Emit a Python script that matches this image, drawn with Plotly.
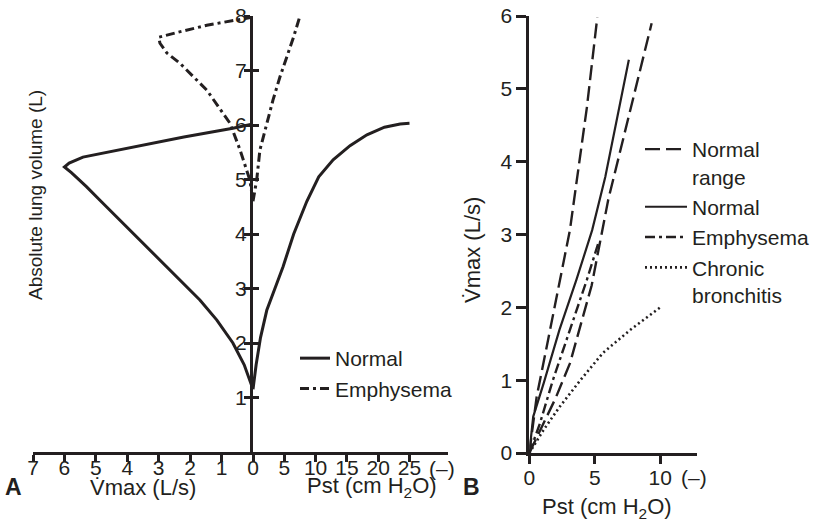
import plotly.graph_objects as go

# ---------------- Panel A data ----------------
# Normal: maximal flow (L/s) vs absolute lung volume (L)
a_norm_vol_flow = [6.02, 5.94, 5.78, 5.6, 5.41, 5.3, 5.23, 5.12, 4.87, 4.62, 4.32, 4.02, 3.7, 3.39, 3.09, 2.79, 2.42, 2.0, 1.6, 1.35, 1.15]
a_norm_vmax = [0.0, 0.64, 2.2, 3.82, 5.41, 5.85, 6.0, 5.77, 5.3, 4.87, 4.35, 3.82, 3.27, 2.74, 2.2, 1.69, 1.15, 0.64, 0.28, 0.12, 0.0]
# Normal: static recoil pressure (cm H2O) vs volume
a_norm_pst = [0, 0.5, 1.2, 2.2, 3.5, 4.8, 6.5, 8.6, 10.5, 12.8, 15.5, 18.2, 21, 23.5, 25]
a_norm_vol_pst = [1.15, 1.6, 2.1, 2.6, 3.0, 3.4, 4.0, 4.6, 5.05, 5.36, 5.62, 5.82, 5.96, 6.02, 6.03]
# Emphysema
a_emph_vol_flow = [7.98, 7.83, 7.7, 7.61, 7.5, 7.32, 7.13, 6.64, 6.03, 5.54, 4.99, 4.6]
a_emph_vmax = [0.0, 1.47, 2.4, 3.0, 2.96, 2.74, 2.32, 1.47, 0.73, 0.41, 0.1, 0.0]
a_emph_pst = [0, 0.6, 1.1, 2.1, 3.2, 4.3, 5.4, 6.5, 7.5]
a_emph_vol_pst = [4.6, 5.0, 5.54, 6.0, 6.46, 6.88, 7.25, 7.62, 8.0]

a_vmax_ticks = [7, 6, 5, 4, 3, 2, 1, 0]
a_pst_ticks = [5, 10, 15, 20, 25]
a_vol_ticks = [1, 2, 3, 4, 5, 6, 7, 8]

# ---------------- Panel B data ----------------
b_range_hi_pst = [0, 0.56, 1.33, 2.34, 3.1, 4.4, 5.19]
b_range_hi_vmax = [0, 0.77, 1.46, 2.38, 3.06, 4.75, 5.98]
b_range_lo_pst = [0, 1.0, 2.0, 3.1, 4.76, 6.03, 7.5, 9.34]
b_range_lo_vmax = [0, 0.38, 0.75, 1.23, 2.3, 3.48, 4.55, 5.9]
b_norm_pst = [0, 0.3, 1.1, 2.3, 3.6, 4.8, 5.8, 6.9, 7.6]
b_norm_vmax = [0, 0.5, 0.96, 1.69, 2.38, 3.06, 3.79, 4.75, 5.4]
b_emph_pst = [0, 0.8, 1.8, 3.1, 4.4, 5.3]
b_emph_vmax = [0, 0.4, 1.0, 1.69, 2.38, 2.9]
b_cb_pst = [0, 1.1, 2.3, 3.9, 5.6, 7.7, 10.0]
b_cb_vmax = [0, 0.32, 0.63, 1.0, 1.37, 1.69, 2.0]

b_pst_ticks = [0, 5, 10]
b_vmax_ticks = [0, 1, 2, 3, 4, 5, 6]

INK = "#231f20"
FONT = "Liberation Sans, Arial, Helvetica, sans-serif"
W, H = 817, 521


def px(x):
    return x / W


def py(y):
    return (H - y) / H


fig = go.Figure()

# Panel A traces
fig.add_trace(go.Scatter(x=a_norm_vmax, y=a_norm_vol_flow, xaxis="x", yaxis="y", mode="lines",
                         line=dict(color=INK, width=3), name="Normal", legend="legend",
                         legendgroup="an"))
fig.add_trace(go.Scatter(x=a_norm_pst, y=a_norm_vol_pst, xaxis="x2", yaxis="y", mode="lines",
                         line=dict(color=INK, width=3), name="Normal", showlegend=False,
                         legendgroup="an"))
fig.add_trace(go.Scatter(x=a_emph_vmax, y=a_emph_vol_flow, xaxis="x", yaxis="y", mode="lines",
                         line=dict(color=INK, width=3, dash="9px,4px,3px,4px"), name="Emphysema",
                         legend="legend", legendgroup="ae"))
fig.add_trace(go.Scatter(x=a_emph_pst, y=a_emph_vol_pst, xaxis="x2", yaxis="y", mode="lines",
                         line=dict(color=INK, width=3, dash="9px,4px,3px,4px"), name="Emphysema",
                         showlegend=False, legendgroup="ae"))
# helper (empty) trace so that the inner tick axis exists
fig.add_trace(go.Scatter(x=[None], y=[None], xaxis="x2", yaxis="y3", showlegend=False,
                         hoverinfo="skip", mode="lines"))

# Panel B traces
fig.add_trace(go.Scatter(x=b_range_hi_pst, y=b_range_hi_vmax, xaxis="x3", yaxis="y2", mode="lines",
                         line=dict(color=INK, width=2.4, dash="15px,6px"), name="Normal<br>range",
                         legend="legend2", legendgroup="bnr"))
fig.add_trace(go.Scatter(x=b_range_lo_pst, y=b_range_lo_vmax, xaxis="x3", yaxis="y2", mode="lines",
                         line=dict(color=INK, width=2.4, dash="15px,6px"), name="Normal range",
                         showlegend=False, legendgroup="bnr"))
fig.add_trace(go.Scatter(x=b_norm_pst, y=b_norm_vmax, xaxis="x3", yaxis="y2", mode="lines",
                         line=dict(color=INK, width=2.2), name="Normal",
                         legend="legend2", legendgroup="bn"))
fig.add_trace(go.Scatter(x=b_emph_pst, y=b_emph_vmax, xaxis="x3", yaxis="y2", mode="lines",
                         line=dict(color=INK, width=2.4, dash="10px,4px,3px,4px"), name="Emphysema",
                         legend="legend2", legendgroup="be"))
fig.add_trace(go.Scatter(x=b_cb_pst, y=b_cb_vmax, xaxis="x3", yaxis="y2", mode="lines",
                         line=dict(color=INK, width=2.6, dash="2px,3px"), name="Chronic<br>bronchitis",
                         legend="legend2", legendgroup="bc"))

axis_common = dict(showgrid=False, zeroline=False, showline=True, linecolor=INK, linewidth=3,
                   tickcolor=INK, tickwidth=2.5, tickfont=dict(size=21, color=INK, family=FONT),
                   fixedrange=True, automargin=False)

fig.update_layout(
    template="none",
    width=W, height=H, autosize=False,
    margin=dict(l=0, r=0, t=0, b=0, pad=0),
    paper_bgcolor="white", plot_bgcolor="white",
    font=dict(family=FONT, color=INK, size=21),
    xaxis=dict(axis_common, domain=[px(33), px(253)], range=[7, 0], anchor="y",
               tickmode="array", tickvals=a_vmax_ticks, ticks="outside", ticklen=7,
               ticklabelstandoff=-12),
    xaxis2=dict(axis_common, domain=[px(253), px(448)], range=[0, 31.15], anchor="y",
                tickmode="array", tickvals=a_pst_ticks, ticks="outside", ticklen=7,
                ticklabelstandoff=-12),
    yaxis=dict(axis_common, domain=[py(452), py(16)], range=[0, 8], anchor="x2", side="left",
               tickmode="array", tickvals=a_vol_ticks, ticks="outside", ticklen=6,
               ticklabelstandoff=-7),
    yaxis3=dict(axis_common, domain=[py(452), py(16)], range=[0, 8], anchor="x2", side="left",
                overlaying="y", showline=False, showticklabels=False,
                tickmode="array", tickvals=a_vol_ticks, ticks="inside", ticklen=6),
    xaxis3=dict(axis_common, domain=[px(529.3), px(696.7)], range=[0, 12.78], anchor="y2",
                tickmode="array", tickvals=b_pst_ticks, ticks="outside", ticklen=8,
                ticklabelstandoff=-4),
    yaxis2=dict(axis_common, domain=[py(453), py(16)], range=[0, 6], anchor="x3",
                tickmode="array", tickvals=b_vmax_ticks, ticks="outside", ticklen=10),
    legend=dict(x=px(295), y=py(338), xanchor="left", yanchor="top", bgcolor="rgba(0,0,0,0)",
                font=dict(size=21, color=INK, family=FONT), tracegroupgap=6,
                traceorder="normal", itemclick=False, itemdoubleclick=False),
    legend2=dict(x=px(640), y=py(129), xanchor="left", yanchor="top", bgcolor="rgba(0,0,0,0)",
                 font=dict(size=21, color=INK, family=FONT), tracegroupgap=0, valign="top",
                 traceorder="normal", itemwidth=42, itemclick=False, itemdoubleclick=False),
    showlegend=True,
)

ann_font = dict(size=22, color=INK, family=FONT)
annotations = [
    dict(text="(\u2013)", x=px(442), y=py(468), xref="paper", yref="paper", showarrow=False,
         xanchor="center", yanchor="middle", font=dict(size=21, color=INK, family=FONT)),
    dict(text="(\u2013)", x=px(694), y=py(477), xref="paper", yref="paper", showarrow=False,
         xanchor="center", yanchor="middle", font=dict(size=21, color=INK, family=FONT)),
    dict(text="V\u0307max (L/s)", x=px(143), y=py(487), xref="paper", yref="paper", showarrow=False,
         xanchor="center", yanchor="middle", font=ann_font),
    dict(text="Pst (cm H<sub>2</sub>O)", x=px(372), y=py(487), xref="paper", yref="paper",
         showarrow=False, xanchor="center", yanchor="middle", font=ann_font),
    dict(text="Pst (cm H<sub>2</sub>O)", x=px(607), y=py(508), xref="paper", yref="paper",
         showarrow=False, xanchor="center", yanchor="middle", font=ann_font),
    dict(text="<b>A</b>", x=px(14), y=py(487), xref="paper", yref="paper", showarrow=False,
         xanchor="center", yanchor="middle", font=dict(size=23, color=INK, family=FONT)),
    dict(text="<b>B</b>", x=px(471), y=py(487), xref="paper", yref="paper", showarrow=False,
         xanchor="center", yanchor="middle", font=dict(size=23, color=INK, family=FONT)),
    dict(text="Absolute lung volume (L)", x=px(36), y=py(195), xref="paper", yref="paper",
         showarrow=False, textangle=-90, xanchor="center", yanchor="middle",
         font=dict(size=19, color=INK, family=FONT)),
    dict(text="V\u0307max (L/s)", x=px(472), y=py(250), xref="paper", yref="paper",
         showarrow=False, textangle=-90, xanchor="center", yanchor="middle",
         font=dict(size=22, color=INK, family=FONT)),
]
fig.update_layout(annotations=annotations)

fig.write_html(
    "out.html",
    config={"displayModeBar": False},
    post_script="document.body.style.margin='0';document.body.style.overflow='hidden';",
)
